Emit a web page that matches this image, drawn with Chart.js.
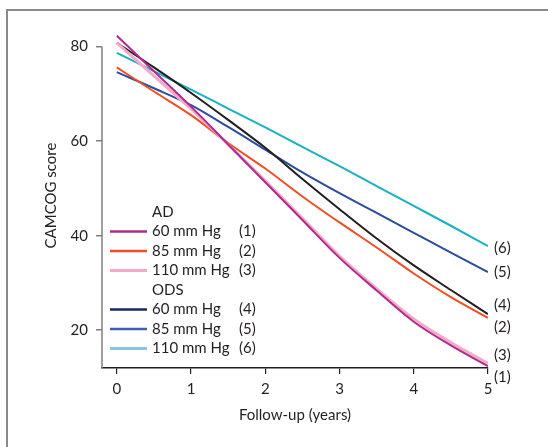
<!DOCTYPE html>
<html>
<head>
<meta charset="utf-8">
<script src="https://cdn.jsdelivr.net/npm/chart.js@4"></script>
<style>
  body { margin: 0; background: #fff; }
  #marco { position: absolute; left: 6px; top: 9px; width: 542px; height: 438px; box-sizing: border-box;
           border-top: 2px solid #8a8a8a; border-left: 2px solid #8a8a8a; }
  #grafico { position: absolute; left: 0; top: 0; }
</style>
</head>
<body>
<div id="marco"></div>
<canvas id="grafico" width="548" height="447"></canvas>
<script>
// follow-up years and CAMCOG scores
const years = [0, 0.5, 1, 1.5, 2, 2.5, 3, 3.5, 4, 4.5, 5];
const ad60  = [82.3, 74.8, 67.3, 59.3, 51.3, 43.3, 35.3, 28.4, 21.8, 16.8, 12.4];
const ad85  = [75.6, 70.5, 65.5, 59.6, 54.2, 48.3, 42.8, 37.5, 32.0, 27.0, 22.6];
const ad110 = [80.8, 73.8, 66.8, 59.3, 51.6, 43.7, 35.7, 28.8, 22.4, 17.4, 13.0];
const ods60  = [80.8, 75.6, 70.2, 64.5, 58.6, 52.0, 45.6, 39.4, 33.7, 28.5, 23.4];
const ods85  = [74.6, 71.2, 67.6, 63.0, 58.2, 53.4, 49.0, 44.8, 40.6, 36.4, 32.3];
const ods110 = [78.7, 74.8, 70.9, 66.9, 62.9, 58.8, 54.7, 50.5, 46.3, 42.1, 37.8];

const xTicks = [0, 1, 2, 3, 4, 5];
const yTicks = [20, 40, 60, 80];

const grupos = ["AD", "ODS"];
const presiones = ["60 mm Hg", "85 mm Hg", "110 mm Hg"];
const numeros = ["(1)", "(2)", "(3)", "(4)", "(5)", "(6)"];
// where the (n) tags sit at the right end, in score units
const etiquetasFin = [10.0, 20.6, 14.7, 25.3, 32.3, 37.4];

const colores = ["#b02a8e", "#f04e23", "#f5a9c8", "#231f20", "#2a4d9c", "#19b1c4"];
const coloresLeyenda = ["#b02a8e", "#f04e23", "#f5a9c8", "#1b2a5e", "#3e5fae", "#84c8dd"];
const series = [ad60, ad85, ad110, ods60, ods85, ods110];

const texto = "#231f20";
Chart.defaults.font.family = "Lato";
Chart.defaults.font.size = 15;
Chart.defaults.color = texto;

function puntos(valores) {
    return years.map((x, i) => ({ x: x, y: valores[i] }));
}

// magenta drawn above pink, as in the figure
const orden = [1, 4, 2, 3, 5, 6];
const datasets = series.map((s, i) => ({
    label: numeros[i],
    data: puntos(s),
    borderColor: colores[i],
    borderWidth: i === 2 ? 3 : 2,
    pointRadius: 0,
    cubicInterpolationMode: "monotone",
    fill: false,
    order: orden[i]
}));

const extras = {
    id: "extras",
    afterDraw(chart) {
        const ctx = chart.ctx;
        const xs = chart.scales.x;
        const ys = chart.scales.y;
        const area = chart.chartArea;

        // y spine only up to 80
        ctx.save();
        ctx.strokeStyle = "#808080";
        ctx.lineWidth = 1.5;
        ctx.beginPath();
        ctx.moveTo(area.left, ys.getPixelForValue(80));
        ctx.lineTo(area.left, area.bottom);
        ctx.stroke();

        // end tags
        ctx.fillStyle = texto;
        ctx.font = "15px Lato";
        ctx.textBaseline = "middle";
        ctx.textAlign = "left";
        etiquetasFin.forEach((v, i) => {
            ctx.fillText(numeros[i], xs.getPixelForValue(5) + 6, ys.getPixelForValue(v));
        });

        // legend
        let y = 212;
        const x0 = area.left + 8;
        grupos.forEach((g, gi) => {
            ctx.fillStyle = texto;
            ctx.fillText(g, x0 + 42, y);
            y += 19.5;
            presiones.forEach((p, pi) => {
                const k = gi * 3 + pi;
                ctx.strokeStyle = coloresLeyenda[k];
                ctx.lineWidth = k === 2 || k === 5 ? 3 : 2.5;
                ctx.beginPath();
                ctx.moveTo(x0, y);
                ctx.lineTo(x0 + 37, y);
                ctx.stroke();
                ctx.fillStyle = texto;
                ctx.fillText(p, x0 + 42, y);
                ctx.fillText(numeros[k], x0 + 129, y);
                y += 19.5;
            });
        });
        ctx.restore();
    }
};

new Chart(document.getElementById("grafico").getContext("2d"), {
    type: "line",
    data: { datasets: datasets },
    options: {
        responsive: false,
        animation: false,
        layout: { padding: { left: 0, right: 60, top: 23, bottom: 0 } },
        plugins: { legend: { display: false }, tooltip: { enabled: false } },
        scales: {
            x: {
                type: "linear",
                min: -0.2,
                max: 5,
                afterBuildTicks: s => { s.ticks = xTicks.map(v => ({ value: v })); },
                afterFit: s => { s.height = 79; },
                grid: { drawOnChartArea: false, tickLength: 6, color: texto, lineWidth: 1.2 },
                border: { color: texto, width: 1.5 },
                ticks: { padding: 6, callback: v => v },
                title: { display: true, text: "Follow-up (years)", padding: { top: 0, bottom: 23 } }
            },
            y: {
                type: "linear",
                min: 12,
                max: 85,
                afterBuildTicks: s => { s.ticks = yTicks.map(v => ({ value: v })); },
                afterFit: s => { s.width = 102; },
                grid: { drawOnChartArea: false, tickLength: 6, color: "#808080", lineWidth: 1.5 },
                border: { display: false },
                ticks: { padding: 8, callback: v => v },
                title: { display: true, text: "CAMCOG score", padding: { top: 42, bottom: 0 } }
            }
        }
    },
    plugins: [extras]
});
</script>
</body>
</html>
